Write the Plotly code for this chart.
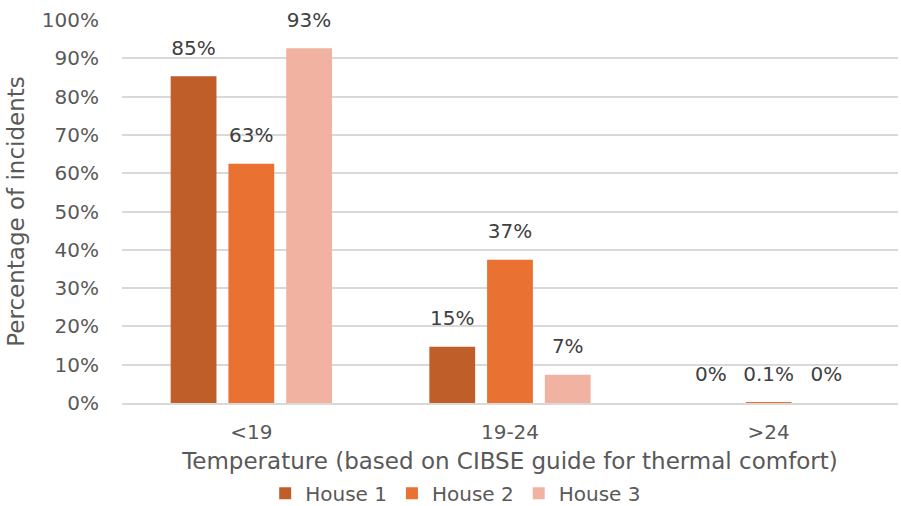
import plotly.graph_objects as go

categories = ["<19", "19-24", ">24"]
house1 = [85.3, 14.7, 0.0]
house2 = [62.5, 37.4, 0.1]
house3 = [92.6, 7.4, 0.0]
labels1 = ["85%", "15%", "0%"]
labels2 = ["63%", "37%", "0.1%"]
labels3 = ["93%", "7%", "0%"]
series_names = ["House 1", "House 2", "House 3"]
colors = ["#C05E2A", "#E97132", "#F1B2A2"]
y_ticks = list(range(0, 101, 10))
y_tick_labels = [f"{v}%" for v in y_ticks]

FONT = "'DejaVu Sans', sans-serif"
BARGAP = 0.33

fig = go.Figure()
for i, (name, vals, labs, col) in enumerate(zip(series_names, [house1, house2, house3],
                                                [labels1, labels2, labels3], colors)):
    fig.add_trace(go.Bar(
        name=name, x=categories, y=vals,
        offsetgroup=str(i), alignmentgroup="g",
        marker=dict(color=col, line=dict(width=0)),
        hoverinfo="x+y+name",
    ))
for i, (vals, labs) in enumerate(zip([house1, house2, house3], [labels1, labels2, labels3])):
    fig.add_trace(go.Scatter(
        x=categories, y=vals, text=labs, mode="markers+text",
        offsetgroup=str(i), alignmentgroup="g",
        marker=dict(size=25, opacity=0),
        textposition="top center", cliponaxis=False,
        textfont=dict(size=20, color="#404040", family=FONT),
        showlegend=False, hoverinfo="skip",
    ))

fig.update_layout(
    width=901, height=506,
    margin=dict(l=122, r=3, t=20, b=103, autoexpand=False),
    paper_bgcolor="white", plot_bgcolor="white",
    barmode="group", bargap=BARGAP, bargroupgap=0.207,
    scattermode="group", scattergap=BARGAP,
    font=dict(family=FONT, color="#595959"),
    showlegend=True,
    legend=dict(orientation="h", x=0.43, xanchor="center", y=-0.185, yanchor="top",
                font=dict(size=20, color="#595959"), traceorder="normal",
                itemwidth=30, tracegroupgap=0),
)
fig.update_xaxes(
    automargin=False,
    showgrid=False, showline=True, linecolor="#D9D9D9", linewidth=1.5,
    tickfont=dict(size=20, color="#595959"), ticks="", ticklabelstandoff=10,
    title=dict(text="Temperature (based on CIBSE guide for thermal comfort)",
               font=dict(size=23, color="#595959"), standoff=10),
)
fig.update_yaxes(
    automargin=False,
    range=[0, 100], tickvals=y_ticks, ticktext=y_tick_labels,
    showgrid=True, gridcolor="#D9D9D9", gridwidth=1.5, zeroline=False,
    tickfont=dict(size=20, color="#595959"), ticks="", ticklabelstandoff=22,
    title=dict(text="Percentage of incidents", font=dict(size=23, color="#595959"), standoff=10),
)

fig.write_html("out.html", config={"displayModeBar": False},
               post_script="document.body.style.margin='0px';")
